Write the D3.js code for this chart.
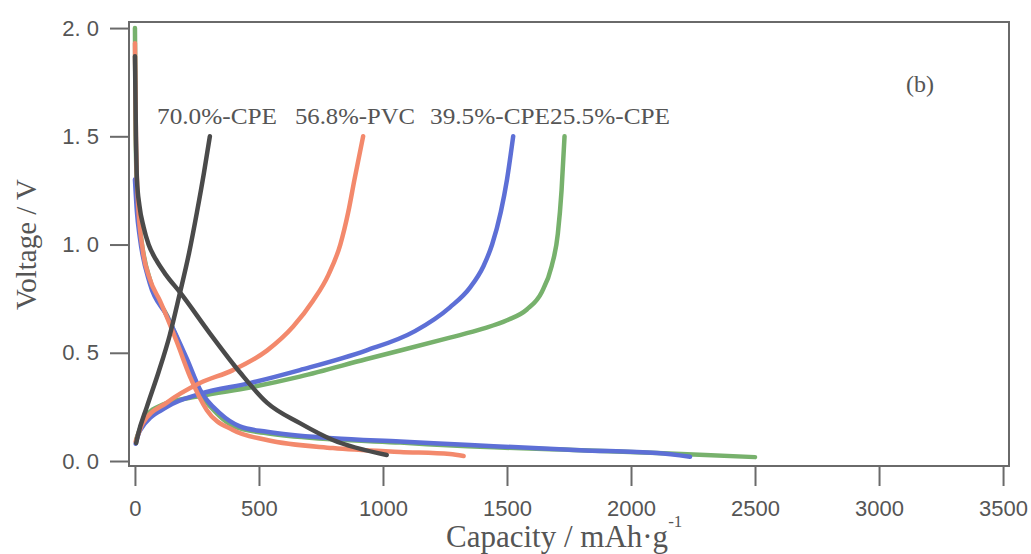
<!DOCTYPE html>
<html>
<head>
<meta charset="utf-8">
<script src="https://cdn.jsdelivr.net/npm/d3@7"></script>
<style>
  body { margin: 0; background: #fff; }
  svg { display: block; }
</style>
</head>
<body>
<div id="chart"></div>
<script>
// capacity (mAh/g) and voltage (V)
const seriesNames = ["70.0%-CPE", "56.8%-PVC", "39.5%-CPE", "25.5%-CPE"];
const seriesColors = ["#4a4a4a", "#f3896c", "#5d6fd6", "#77b16c"];

// discharge branches
const cpe70DisCap = [0, 4, 8, 18, 35, 55, 85, 125, 181, 302, 423, 532, 665, 798, 1015];
const cpe70DisV   = [1.87, 1.5, 1.3, 1.18, 1.08, 1.0, 0.93, 0.86, 0.78, 0.59, 0.41, 0.27, 0.175, 0.097, 0.028];
const pvcDisCap = [0, 4, 12, 32, 60, 101, 169, 222, 290, 395, 532, 798, 1069, 1270, 1325];
const pvcDisV   = [1.93, 1.5, 1.2, 0.97, 0.84, 0.74, 0.55, 0.39, 0.235, 0.143, 0.097, 0.06, 0.042, 0.032, 0.023];
const cpe39DisCap = [0, 8, 20, 60, 129, 210, 262, 343, 423, 532, 798, 1069, 1351, 1794, 2105, 2238];
const cpe39DisV   = [1.3, 1.15, 1.03, 0.82, 0.67, 0.47, 0.33, 0.22, 0.16, 0.135, 0.105, 0.09, 0.074, 0.05, 0.037, 0.02];
const cpe25DisCap = [0, 3, 10, 25, 65, 130, 205, 255, 330, 400, 520, 800, 1070, 1300, 1800, 2105, 2300, 2500];
const cpe25DisV   = [2.0, 1.5, 1.2, 1.03, 0.82, 0.67, 0.47, 0.33, 0.22, 0.16, 0.13, 0.1, 0.085, 0.07, 0.05, 0.037, 0.028, 0.018];

// charge branches
const cpe70ChgCap = [5, 12, 48, 95, 140, 180, 218, 250, 278, 302];
const cpe70ChgV   = [0.083, 0.12, 0.25, 0.41, 0.58, 0.77, 0.96, 1.15, 1.33, 1.5];
const pvcChgCap = [3, 32, 129, 262, 395, 532, 637, 718, 780, 828, 860, 885, 920];
const pvcChgV   = [0.09, 0.175, 0.27, 0.36, 0.42, 0.51, 0.62, 0.74, 0.86, 1.0, 1.15, 1.3, 1.5];
const cpe39ChgCap = [3, 20, 129, 262, 464, 665, 931, 1129, 1270, 1350, 1405, 1440, 1475, 1500, 1525];
const cpe39ChgV   = [0.08, 0.14, 0.25, 0.31, 0.36, 0.42, 0.51, 0.6, 0.71, 0.8, 0.9, 1.0, 1.15, 1.3, 1.5];
const cpe25ChgCap = [5, 40, 110, 262, 464, 665, 931, 1270, 1400, 1500, 1580, 1640, 1680, 1705, 1720, 1732];
const cpe25ChgV   = [0.1, 0.2, 0.26, 0.3, 0.34, 0.39, 0.47, 0.57, 0.61, 0.65, 0.7, 0.78, 0.9, 1.05, 1.25, 1.5];

const xTicks = [0, 500, 1000, 1500, 2000, 2500, 3000, 3500];
const yTicks = [0, 0.5, 1.0, 1.5, 2.0];
const yTickLabels = ["0. 0", "0. 5", "1. 0", "1. 5", "2. 0"];

const width = 1031, height = 554;
const margin = {left: 129, right: 22, top: 22, bottom: 88};

const x = d3.scaleLinear().domain([-24, 3524]).range([margin.left, width - margin.right]);
const y = d3.scaleLinear().domain([-0.023, 2.028]).range([height - margin.bottom, margin.top]);

const zip = (c, v) => c.map((d, i) => [d, v[i]]);
const curves = [
  {s: 3, pts: zip(cpe25DisCap, cpe25DisV)},
  {s: 3, pts: zip(cpe25ChgCap, cpe25ChgV)},
  {s: 2, pts: zip(cpe39DisCap, cpe39DisV)},
  {s: 2, pts: zip(cpe39ChgCap, cpe39ChgV)},
  {s: 1, pts: zip(pvcDisCap, pvcDisV)},
  {s: 1, pts: zip(pvcChgCap, pvcChgV)},
  {s: 0, pts: zip(cpe70DisCap, cpe70DisV)},
  {s: 0, pts: zip(cpe70ChgCap, cpe70ChgV)}
];

const svg = d3.select("#chart").append("svg")
  .attr("width", width)
  .attr("height", height);

const axisColor = "#6a6a6a";
const textColor = "#555";
const sans = "'Liberation Sans', Arial, sans-serif";
const serif = "'Liberation Serif', 'Times New Roman', serif";

// frame
svg.append("rect")
  .attr("x", margin.left).attr("y", margin.top)
  .attr("width", width - margin.left - margin.right)
  .attr("height", height - margin.top - margin.bottom)
  .attr("fill", "none").attr("stroke", axisColor).attr("stroke-width", 2);

// curves
const line = d3.line()
  .x(d => x(d[0]))
  .y(d => y(d[1]))
  .curve(d3.curveMonotoneX);

svg.append("g")
  .attr("fill", "none")
  .attr("stroke-width", 4.5)
  .attr("stroke-linecap", "round")
  .attr("stroke-linejoin", "round")
  .selectAll("path")
  .data(curves)
  .join("path")
  .attr("stroke", d => seriesColors[d.s])
  .attr("d", d => line(d.pts));

// x axis
const xAxis = svg.append("g")
  .attr("transform", `translate(0,${height - margin.bottom})`)
  .call(d3.axisBottom(x).tickValues(xTicks).tickSize(20).tickPadding(14).tickFormat(d3.format("d")));
xAxis.select(".domain").remove();
xAxis.selectAll("line").attr("stroke", axisColor).attr("stroke-width", 2);
xAxis.selectAll("text")
  .attr("fill", textColor)
  .style("font-family", sans)
  .style("font-size", "22px");

// y axis
const yAxis = svg.append("g")
  .attr("transform", `translate(${margin.left},0)`)
  .call(d3.axisLeft(y).tickValues(yTicks).tickSize(19).tickPadding(11)
    .tickFormat((d, i) => yTickLabels[i]));
yAxis.select(".domain").remove();
yAxis.selectAll("line").attr("stroke", axisColor).attr("stroke-width", 2);
yAxis.selectAll("text")
  .attr("fill", textColor)
  .style("font-family", sans)
  .style("font-size", "22px");

// axis titles
svg.append("text")
  .attr("transform", `translate(36,${y(1.0)}) rotate(-90)`)
  .attr("text-anchor", "middle")
  .attr("fill", textColor)
  .style("font-family", serif)
  .style("font-size", "29px")
  .text("Voltage / V");

const xt = svg.append("text")
  .attr("x", 446).attr("y", 547)
  .attr("fill", textColor)
  .style("font-family", serif)
  .style("font-size", "31px");
xt.append("tspan").text("Capacity / mAh·g");
xt.append("tspan").attr("dy", -20).style("font-size", "17px").text("-1");

// series labels
const labelX = [157, 295, 430, 550];
svg.append("g")
  .selectAll("text")
  .data(seriesNames)
  .join("text")
  .attr("x", (d, i) => labelX[i])
  .attr("y", 124)
  .attr("fill", textColor)
  .attr("textLength", 120)
  .attr("lengthAdjust", "spacingAndGlyphs")
  .style("font-family", serif)
  .style("font-size", "24px")
  .text(d => d);

svg.append("text")
  .attr("x", 920).attr("y", 92)
  .attr("text-anchor", "middle")
  .attr("fill", textColor)
  .style("font-family", serif)
  .style("font-size", "24px")
  .text("(b)");
</script>
</body>
</html>
